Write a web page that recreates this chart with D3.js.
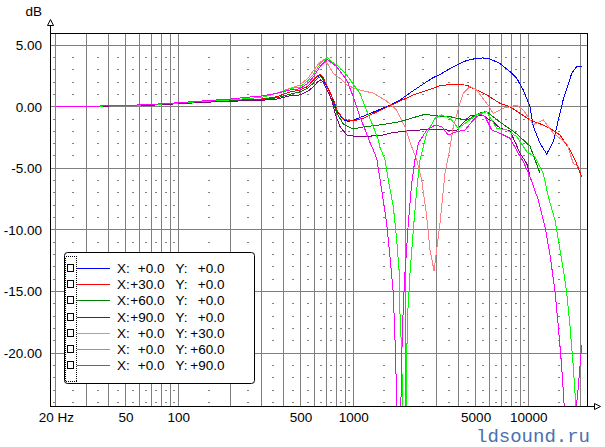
<!DOCTYPE html>
<html><head><meta charset="utf-8">
<script src="https://cdn.jsdelivr.net/npm/d3@7"></script>
<style>
body{margin:0;background:#fff;}
svg{display:block;font-family:"Liberation Sans",Arial,sans-serif;}
</style>
</head><body>
<svg id="chart" width="605" height="447"></svg>
<script>
// ---------- DATA ----------
const freqDomain = [18.5, 21730];
const dbDomain = [-24.33, 5.95];
const majorFreqs = [20,30,40,50,60,70,80,90,100,200,300,400,500,600,700,800,900,1000,2000,3000,4000,5000,6000,7000,8000,9000,10000,20000];
const minorFreqs = [19.6,25,35,45,55,65,75,85,95,150,250,350,450,550,650,750,850,950,1500,2500,3500,4500,5500,6500,7500,8500,9500,15000];
const majorDb = [5,0,-5,-10,-15,-20];
const minorDb = d3.range(-24, 6).filter(d => d % 5 !== 0);
const xTickValues = [20,50,100,500,1000,5000,10000];
const xTickLabels = ["20 Hz","50","100","500","1000","5000","10000"];
const yTickLabels = ["5.00","0.00","-5.00","-10.00","-15.00","-20.00"];

const seriesNames = ["X0Y0","X30Y0","X60Y0","X90Y0","X0Y30","X0Y60","X0Y90"];
const legendX = ["+0.0","+30.0","+60.0","+90.0","+0.0","+0.0","+0.0"];
const legendY = ["+0.0","+0.0","+0.0","+0.0","+30.0","+60.0","+90.0"];
const seriesColors = ["#0000ff","#ff0000","#008000","#800080","#ff8080","#00ff00","#ff00ff"];

const blueX0Y0 = [[20,0],[30,0.02],[50,0.08],[70,0.14],[100,0.28],[150,0.42],[200,0.5],[300,0.62],[365,0.8],[435,1.2],[496,1.35],[550,1.65],[590,2.1],[625,2.45],[650,2.57],[670,2.4],[689,1.9],[730,1.2],[769,0.54],[810,-0.4],[877,-1.05],[930,-1.2],[1000,-1.1],[1246,-0.55],[1552,0],[1849,0.54],[2202,1.3],[2850,2.35],[3130,2.6],[3570,3.1],[4071,3.5],[4446,3.75],[5073,3.92],[5500,3.95],[6041,3.87],[6893,3.5],[7862,2.84],[8585,2.3],[9363,1.35],[10226,0],[10681,-1.62],[11665,-2.97],[12737,-3.84],[13895,-2.84],[14838,-1.08],[15849,0.6],[17701,2.7],[18907,3.24],[20190,3.24]];
const redX30Y0 = [[20,0],[30,0.02],[50,0.08],[70,0.14],[100,0.28],[150,0.42],[200,0.5],[300,0.62],[365,0.8],[435,1.2],[496,1.35],[550,1.65],[590,2.15],[625,2.5],[650,2.6],[670,2.45],[689,2.0],[730,1.25],[769,0.6],[810,-0.35],[877,-1.0],[957,-1.15],[1000,-1.15],[1141,-0.94],[1421,-0.3],[1849,0.45],[2202,0.95],[2744,1.4],[3130,1.7],[3570,1.8],[4446,1.75],[5073,1.35],[5786,0.95],[6893,0.27],[7862,0],[8968,-0.54],[10226,-1.08],[12180,-1.49],[13305,-1.75],[15173,-2.3],[17310,-3.5],[18489,-4.3],[20190,-5.7]];
const dkGreenX60Y0 = [[20,0],[30,0.02],[50,0.08],[70,0.13],[100,0.26],[150,0.4],[200,0.47],[300,0.58],[365,0.72],[435,1.0],[496,1.2],[550,1.5],[590,1.9],[625,2.3],[650,2.43],[670,2.25],[689,1.7],[730,1.0],[769,0.3],[810,-0.6],[877,-1.4],[957,-1.7],[1000,-1.8],[1141,-1.65],[1421,-1.48],[1849,-1.22],[2202,-0.89],[2569,-0.62],[2997,-0.75],[3570,-0.81],[3898,-0.94],[4446,-1.1],[5297,-0.5],[5786,-0.4],[6893,-1.25],[8585,-2.2],[10226,-3.2],[11665,-5.4]];
const purpleX90Y0 = [[20,0],[30,0.02],[50,0.08],[70,0.12],[100,0.24],[150,0.37],[200,0.44],[300,0.52],[365,0.62],[435,0.89],[496,0.95],[550,1.25],[590,1.6],[625,2.0],[650,2.16],[670,2.05],[700,1.5],[753,0.54],[786,-0.54],[840,-1.62],[917,-2.3],[1046,-2.43],[1421,-2.35],[1693,-2.1],[2109,-1.95],[2405,-1.89],[3418,-1.89],[3898,-1.95],[4071,-1.6],[4446,-1.0],[4645,-0.75],[5073,-0.67],[5534,-0.7],[5786,-0.94],[6310,-1.22],[6893,-1.75],[7862,-1.95],[8210,-2.56],[8968,-3.78],[9792,-4.6],[10226,-5.6]];
const pinkX0Y30 = [[20,0],[30,0.02],[50,0.1],[70,0.16],[100,0.3],[150,0.45],[200,0.55],[300,0.75],[365,1.08],[435,1.49],[496,1.76],[550,2.3],[590,2.9],[640,3.55],[674,3.8],[720,3.4],[769,2.7],[840,2.3],[917,1.76],[1046,1.41],[1301,1.1],[1552,0.45],[1770,-0.27],[1974,-1.62],[2156,-3.24],[2303,-4.3],[2460,-5.95],[2627,-8.9],[2744,-11.6],[2892,-13.3],[2997,-11.6],[3130,-9.46],[3342,-5.4],[3570,-3.3],[3728,-1.62],[4071,0.27],[4252,1.08],[4645,1.62],[5073,1.35],[5786,0.27],[6310,-0.54],[7197,-0.13],[8585,0.13],[9363,-0.27],[10681,-1.45],[12180,-1.08],[13895,-2.16],[16574,-2.97],[18077,-4.6],[19486,-4.9]];
const greenX0Y60 = [[20,0],[30,0.02],[50,0.1],[70,0.16],[100,0.3],[150,0.45],[200,0.55],[300,0.75],[365,1.08],[435,1.45],[496,1.6],[550,2.1],[590,2.6],[650,3.5],[710,4.0],[760,3.6],[804,3.38],[917,2.57],[1092,1.08],[1167,0],[1301,-1.62],[1390,-2.7],[1421,-3.3],[1518,-4.3],[1585,-5.95],[1693,-8.1],[1770,-10.8],[1832,-13.5],[1849,-16.8],[1891,-20],[1960,-35],[2019,-20.3],[2046,-16.8],[2109,-13.5],[2202,-10],[2303,-6.75],[2405,-4.3],[2569,-2.7],[2627,-2.16],[2931,-0.94],[3200,-0.67],[3570,-0.94],[3981,-1.75],[4348,-1.35],[5073,-0.67],[5786,-0.4],[6598,-1.75],[7527,-1.89],[8585,-2.43],[9792,-3.65],[10920,-4.05],[12180,-5.4],[13010,-7.3],[14209,-9.2],[14838,-10.8],[15849,-13.2],[16574,-15.1],[17310,-17.8],[18077,-21.1],[18489,-23.2],[19000,-27]];
const magentaX0Y90 = [[20,0],[30,0.03],[50,0.1],[70,0.18],[100,0.32],[150,0.5],[200,0.62],[234,0.73],[300,0.87],[365,1.08],[435,1.35],[496,1.45],[550,1.9],[590,2.4],[650,3.3],[710,3.85],[760,3.5],[804,3.24],[917,2.16],[1000,0.81],[1092,-0.81],[1193,-2.2],[1246,-2.9],[1301,-3.5],[1361,-4.2],[1453,-6.75],[1552,-9.46],[1621,-12.2],[1693,-15.1],[1731,-18.9],[1754,-21.6],[1815,-35],[1891,-20.3],[1931,-16.2],[1974,-13.5],[2062,-9.46],[2156,-6.2],[2252,-4.3],[2352,-2.97],[2627,-1.89],[2931,-1.49],[3200,-1.62],[3491,-2.3],[3898,-2.03],[4348,-1.89],[4851,-1.08],[5297,-0.59],[5658,-0.81],[6178,-1.89],[6893,-2.16],[7862,-2.56],[8770,-3.78],[9363,-4.46],[10226,-5.68],[11405,-7.57],[12455,-9.73],[13305,-12.0],[14209,-15.0],[14838,-17.8],[15519,-21.1],[16059,-24.4],[17300,-32],[18907,-24],[19308,-22.7],[20190,-19.3]];
const allSeries = [blueX0Y0, redX30Y0, dkGreenX60Y0, purpleX90Y0, pinkX0Y30, greenX0Y60, magentaX0Y90];

// ---------- LAYOUT ----------
const L = 50, T = 33, R = 587, B = 406;
const svg = d3.select("#chart");
const x = d3.scaleLog().domain(freqDomain).range([L, R + 0.3]);
const y = d3.scaleLinear().domain(dbDomain).range([B + 0.7, T + 0.3]);
const px = v => Math.floor(v) + 0.5;
const gridColor = "#808080";

svg.append("rect").attr("width",605).attr("height",447).attr("fill","#fff");

// minor dashes
const gMinor = svg.append("g").attr("fill", gridColor).attr("shape-rendering","crispEdges");
minorFreqs.forEach(f => {
  minorDb.forEach(d => {
    gMinor.append("rect").attr("x", Math.round(x(f)) - 1).attr("y", Math.floor(y(d))).attr("width",2).attr("height",1);
  });
});

// major grid
const gGrid = svg.append("g").attr("stroke", gridColor).attr("stroke-width",1).attr("shape-rendering","crispEdges");
majorFreqs.forEach(f => {
  gGrid.append("line").attr("x1", px(x(f))).attr("x2", px(x(f))).attr("y1", T).attr("y2", B);
});
majorDb.forEach(d => {
  gGrid.append("line").attr("x1", L).attr("x2", R).attr("y1", px(y(d))).attr("y2", px(y(d)));
});

// curves
svg.append("clipPath").attr("id","plotClip").append("rect")
  .attr("x", L+1).attr("y", T+1).attr("width", R-L-1).attr("height", B-T-1);
const line = d3.line().x(d => x(d[0])).y(d => y(d[1]));
const gCurves = svg.append("g").attr("clip-path","url(#plotClip)");
allSeries.forEach((s, i) => {
  gCurves.append("path").datum(s).attr("d", line)
    .attr("fill","none").attr("stroke", seriesColors[i]).attr("stroke-width",1)
    .attr("shape-rendering","crispEdges");
});

// frame
svg.append("rect").attr("x", L+0.5).attr("y", T+0.5).attr("width", R-L).attr("height", B-T)
  .attr("fill","none").attr("stroke","#000").attr("shape-rendering","crispEdges");
// y axis arrow
svg.append("line").attr("x1",L+0.5).attr("x2",L+0.5).attr("y1",T).attr("y2",25).attr("stroke","#000").attr("shape-rendering","crispEdges");
svg.append("path").attr("d",`M${L-2.5},25.5 L${L+0.5},19.5 L${L+3.5},25.5 Z`).attr("fill","#fff").attr("stroke","#000");
// x axis arrow
svg.append("line").attr("x1",R).attr("x2",594).attr("y1",B+0.5).attr("y2",B+0.5).attr("stroke","#000").attr("shape-rendering","crispEdges");
svg.append("path").attr("d",`M594.5,${B-2.5} L600.5,${B+0.5} L594.5,${B+3.5} Z`).attr("fill","#fff").attr("stroke","#000");

// axes labels
const yAxis = d3.axisLeft(y).tickValues(majorDb).tickFormat((d,i) => yTickLabels[i]).tickSize(0).tickPadding(8);
const gy = svg.append("g").attr("transform",`translate(${L},0)`).call(yAxis);
gy.select(".domain").remove();
gy.selectAll("text").attr("font-size","13.5px").attr("font-family","Liberation Sans, Arial, sans-serif").attr("fill","#000");

const xAxis = d3.axisBottom(x).tickValues(xTickValues).tickFormat((d,i) => xTickLabels[i]).tickSize(0).tickPadding(6.5);
const gx = svg.append("g").attr("transform",`translate(0,${B})`).call(xAxis);
gx.select(".domain").remove();
gx.selectAll("text").attr("font-size","13.5px").attr("font-family","Liberation Sans, Arial, sans-serif").attr("fill","#000");

svg.append("text").attr("x",42).attr("y",15.5).attr("text-anchor","end").attr("font-size","13.5px").text("dB");

// legend
const lg = svg.append("g");
lg.append("rect").attr("x",64.5).attr("y",252.5).attr("width",190).attr("height",131).attr("rx",3)
  .attr("fill","#fff").attr("stroke","#000");
lg.append("rect").attr("x",65.5).attr("y",256.5).attr("width",11).attr("height",125)
  .attr("fill","none").attr("stroke","#000").attr("stroke-dasharray","1,1").attr("shape-rendering","crispEdges");
seriesNames.forEach((n, i) => {
  const cy = 268 + i * 16.17;
  const r = Math.round(cy);
  lg.append("rect").attr("x",67.5).attr("y",r-3.5).attr("width",6).attr("height",7)
    .attr("fill","#fff").attr("stroke","#000").attr("shape-rendering","crispEdges");
  lg.append("line").attr("x1",77).attr("x2",110).attr("y1",r+0.5).attr("y2",r+0.5)
    .attr("stroke",seriesColors[i]).attr("shape-rendering","crispEdges");
  const ty = r + 5.3;
  lg.append("text").attr("x",117).attr("y",ty).attr("font-size","13.5px").text("X:");
  lg.append("text").attr("x",164.5).attr("y",ty).attr("text-anchor","end").attr("font-size","13.5px").text(legendX[i]);
  lg.append("text").attr("x",175.5).attr("y",ty).attr("font-size","13.5px").text("Y:");
  lg.append("text").attr("x",224.5).attr("y",ty).attr("text-anchor","end").attr("font-size","13.5px").text(legendY[i]);
});

// watermark
svg.append("text").attr("x",476).attr("y",442).attr("font-family","Liberation Mono, Courier New, monospace")
  .attr("font-size","19px").attr("fill","#4a70b0").text("ldsound.ru");
</script>
</body></html>
